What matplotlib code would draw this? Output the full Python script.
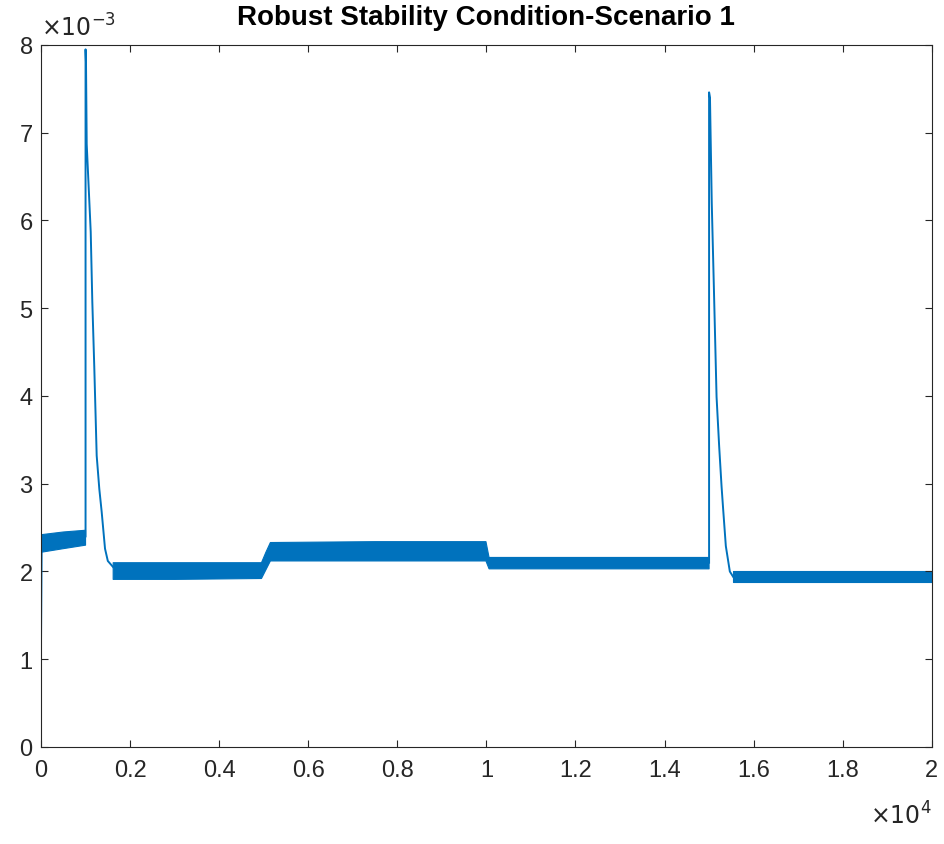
import numpy as np
import matplotlib
matplotlib.use('Agg')
import matplotlib.pyplot as plt
from matplotlib.ticker import FuncFormatter

plt.rcParams['font.family'] = ['Liberation Sans', 'DejaVu Sans']

#-------------------------------------------------------------
# values (y in units of 1e-3)
# thin line parts: start, two peaks and their decays
t_line_a = [0, 0, 15]
y_line_a = [0.0, 1.2, 2.30]

t_line_b = [1000, 1000, 1010, 1026, 1116, 1152, 1196, 1250, 1309, 1362, 1437, 1500, 1620]
y_line_b = [2.40, 7.95, 7.80, 6.87, 5.87, 5.07, 4.33, 3.32, 2.94, 2.68, 2.26, 2.12, 2.05]

t_line_c = [15000, 15000, 15020, 15060, 15107, 15168, 15226, 15280, 15316, 15376, 15466, 15540]
y_line_c = [2.10, 7.46, 7.40, 6.20, 5.25, 3.99, 3.43, 2.97, 2.71, 2.29, 2.00, 1.94]

# oscillating band: lower / upper envelope (nan = break)
t_band  = [15, 500, 1000, np.nan, 1620, 3000, 4950, 5050, 5150, 7500, 9990, 10060, 12500, 15000, np.nan, 15540, 17500, 20000]
band_lo = [2.22, 2.26, 2.30, np.nan, 1.91, 1.91, 1.92, 2.02, 2.12, 2.12, 2.12, 2.03, 2.03, 2.03, np.nan, 1.88, 1.88, 1.88]
band_hi = [2.42, 2.45, 2.47, np.nan, 2.10, 2.10, 2.10, 2.22, 2.33, 2.34, 2.34, 2.16, 2.16, 2.16, np.nan, 2.00, 2.00, 2.00]

x_ticks = [0, 2000, 4000, 6000, 8000, 10000, 12000, 14000, 16000, 18000, 20000]
y_ticks = [0, 1, 2, 3, 4, 5, 6, 7, 8]

col = '#0072BD'
gray = '#262626'

#-------------------------------------------------------------
fig = plt.figure(figsize=(9.45, 8.45), dpi=100)
ax = fig.add_axes([0.0434, 0.1148, 0.9426, 0.8308])

ax.fill_between(t_band, band_lo, band_hi, color=col, linewidth=0.8, edgecolor=col)
ax.plot(t_line_a, y_line_a, color=col, lw=1.4)
ax.plot(t_line_b, y_line_b, color=col, lw=1.4)
ax.plot(t_line_c, y_line_c, color=col, lw=1.4)

ax.set_xlim(0, 20000)
ax.set_ylim(0, 8)
ax.set_xticks(x_ticks)
ax.set_yticks(y_ticks)
ax.xaxis.set_major_formatter(FuncFormatter(lambda v, p: '%g' % (v / 1e4)))
ax.tick_params(direction='in', top=True, right=True, length=5, width=0.8,
               labelsize=17, colors=gray)
ax.tick_params(axis='x', pad=9)
ax.tick_params(axis='y', pad=6)
for s in ax.spines.values():
    s.set_color(gray)
    s.set_linewidth(0.8)

ax.text(0.0, 1.006, r'$\times 10^{-3}$', transform=ax.transAxes, fontsize=17,
        color=gray, ha='left', va='bottom')
ax.text(1.0, -0.078, r'$\times 10^{4}$', transform=ax.transAxes, fontsize=17,
        color=gray, ha='right', va='top')
ax.set_title('Robust Stability Condition-Scenario 1', fontsize=20,
             fontweight='bold', color='#000000', pad=15)

plt.savefig('out.png', dpi=100)
